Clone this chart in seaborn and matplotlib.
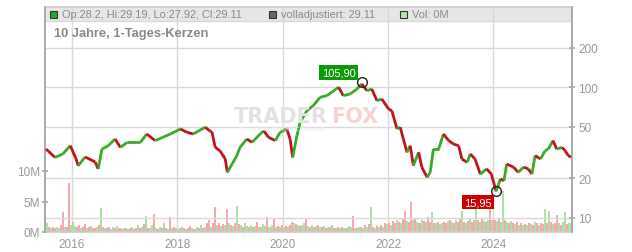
import numpy as np
import matplotlib
matplotlib.use("Agg")
import matplotlib.pyplot as plt
import seaborn as sns
from matplotlib.collections import LineCollection
from matplotlib.patches import Rectangle

# ---------------- data ----------------
price_year = [2015.51, 2015.68, 2015.83, 2015.97, 2016.08, 2016.12, 2016.25, 2016.44, 2016.50,
              2016.57, 2016.69, 2016.82, 2016.92, 2017.05, 2017.30, 2017.42, 2017.58, 2017.73,
              2017.87, 2018.06, 2018.18, 2018.30, 2018.53, 2018.62, 2018.66, 2018.72, 2018.81,
              2018.91, 2018.95, 2019.04, 2019.13, 2019.19, 2019.32, 2019.42, 2019.54, 2019.64,
              2019.73, 2019.86, 2019.95, 2020.08, 2020.14, 2020.19, 2020.27, 2020.33, 2020.46,
              2020.58, 2020.71, 2020.84, 2020.93, 2021.06, 2021.15, 2021.28, 2021.41, 2021.50,
              2021.60, 2021.69, 2021.79, 2021.88, 2022.01, 2022.07, 2022.17, 2022.23, 2022.29,
              2022.36, 2022.42, 2022.48, 2022.58, 2022.64, 2022.74, 2022.80, 2022.86, 2022.96,
              2023.05, 2023.15, 2023.24, 2023.34, 2023.40, 2023.50, 2023.56, 2023.65, 2023.75,
              2023.87, 2023.96, 2024.05, 2024.13, 2024.20, 2024.25, 2024.38, 2024.47, 2024.57,
              2024.66, 2024.73, 2024.79, 2024.89, 2024.98, 2025.04, 2025.13, 2025.20, 2025.30,
              2025.36, 2025.42, 2025.47]
price_val = [33.6, 29.0, 30.8, 35.6, 28.2, 25.0, 29.2, 26.8, 23.7,
             33.6, 35.6, 40.1, 34.6, 37.8, 37.8, 43.8, 39.0, 41.4,
             43.8, 47.9, 45.2, 43.8, 49.4, 46.2, 45.2, 34.6, 32.6,
             28.2, 22.3, 25.8, 29.9, 34.6, 40.1, 37.8, 42.5, 46.4,
             41.4, 39.0, 45.2, 47.9, 40.1, 29.0, 42.5, 53.9, 66.1,
             72.2, 83.7, 86.2, 91.4, 100.0, 86.2, 88.7, 96.9, 105.9,
             94.0, 96.9, 78.8, 81.2, 68.1, 66.1, 47.9, 49.4, 40.1,
             31.7, 35.6, 25.1, 31.7, 24.4, 20.4, 22.3, 33.6, 33.6,
             43.8, 39.0, 36.7, 35.6, 28.2, 26.6, 30.8, 28.2, 21.6,
             23.7, 21.6, 15.95, 19.8, 19.2, 25.8, 24.4, 22.3, 24.4,
             23.7, 21.6, 29.9, 28.2, 32.6, 33.6, 39.0, 33.6, 34.6,
             32.6, 29.9, 29.11]

# volume in millions, two-week buckets per year
vol_2015 = [1.5, 0.9, 0.7, 0.9, 0.6, 0.8, 0.7, 1.1, 3.3, 0.9, 0.8, 8.0, 1.2]
vol_2016 = [1.6, 1.0, 0.8, 1.2, 0.7, 0.9, 1.3, 0.6, 0.8, 1.0, 0.7, 0.6, 0.9, 1.1, 3.9, 0.8,
            0.6, 0.7, 0.9, 0.5, 0.8, 0.6, 1.0, 0.7, 0.5, 0.6]
vol_2017 = [0.6, 0.5, 0.7, 0.9, 0.5, 0.6, 1.2, 0.6, 0.8, 1.3, 2.7, 0.7, 0.6, 1.1, 3.0, 0.6,
            0.5, 0.8, 0.6, 1.4, 0.7, 0.5, 2.5, 0.6, 0.8, 0.6]
vol_2018 = [0.5, 0.6, 0.8, 0.6, 0.5, 0.7, 1.0, 0.6, 0.5, 0.8, 0.6, 1.2, 0.7, 0.9, 1.4, 2.0,
            0.9, 1.5, 4.1, 1.2, 1.5, 1.0, 1.3, 1.1, 3.8, 1.4]
vol_2019 = [1.2, 1.0, 1.5, 4.3, 1.3, 1.1, 0.9, 1.4, 1.0, 0.8, 1.2, 0.9, 1.0, 1.6, 0.8, 0.9,
            1.3, 1.0, 2.5, 0.9, 1.1, 2.2, 0.8, 1.0, 0.9, 1.2]
vol_2020 = [0.8, 1.0, 0.9, 1.2, 1.7, 1.5, 1.3, 1.1, 1.0, 1.2, 1.4, 2.1, 1.0, 0.9, 1.1, 0.8,
            1.0, 1.2, 0.9, 0.8, 1.0, 0.7, 0.9, 0.8, 1.1, 0.7]
vol_2021 = [0.6, 0.8, 0.7, 0.9, 0.6, 0.7, 1.0, 0.8, 2.6, 0.7, 0.6, 0.9, 0.8, 0.7, 1.2, 0.8,
            1.3, 4.1, 0.9, 0.7, 1.0, 0.8, 1.2, 0.9, 1.5, 1.3]
vol_2022 = [1.4, 1.2, 1.8, 1.5, 2.0, 1.6, 1.4, 2.2, 3.4, 1.8, 1.6, 5.0, 1.9, 2.2, 1.7, 1.5,
            2.0, 1.8, 1.6, 2.4, 1.7, 3.2, 1.5, 1.4, 1.6, 1.3]
vol_2023 = [1.5, 1.7, 1.4, 1.8, 2.0, 1.6, 1.5, 1.9, 1.7, 2.3, 3.5, 1.6, 1.4, 1.8, 2.1, 1.7,
            2.0, 3.8, 1.9, 1.6, 2.2, 1.8, 1.7, 2.0, 3.8, 1.9]
vol_2024 = [2.0, 1.8, 2.2, 1.7, 6.7, 1.9, 1.6, 1.5, 1.8, 1.4, 1.3, 1.6, 1.2, 1.4, 1.1, 1.3,
            1.2, 1.5, 1.3, 1.1, 1.6, 1.4, 1.2, 1.5, 1.3, 3.7]
vol_2025 = [1.4, 3.5, 1.6, 1.3, 1.5, 2.8, 1.4, 1.2, 1.6, 3.2, 1.3, 1.5, 1.2]

# up (g) / down (r) day for each volume bucket
dir_2015 = "grgrrggrrgrrg"
dir_2016 = "ggrrgrrgrgrrgrgrgrrggrgrrg"
dir_2017 = "rgrgrrgrgrgrggrgrgrgrgrgrg"
dir_2018 = "grgrgrrgrgrgrgrrgrrgrgrgrg"
dir_2019 = "rgrgrgrggrgrgrgrggrggrgrgr"
dir_2020 = "grgrrgrgrggrgrgrgrgrgrgrgr"
dir_2021 = "grgrgrggrgrgrgrgrgrgrgrgrg"
dir_2022 = "rgrrgrgrrgrrgrgrgrgrrgrgrg"
dir_2023 = "grrgrgrgrrgrgrgrrgrgrgrgrg"
dir_2024 = "rgrggrgrgrgrgrgrgrgrgrgrrg"
dir_2025 = "rgrgrrgrggrgr"

year_tick_labels = ["2016", "2018", "2020", "2022", "2024"]
price_ticks = [10, 20, 50, 100, 200]
price_tick_labels = ["10", "20", "50", "100", "200"]
vol_ticks = [0, 5, 10]
vol_tick_labels = ["0M", "5M", "10M"]

high_year, high_val, high_label = 2021.50, 105.9, "105,90"
low_year, low_val, low_label = 2024.05, 15.95, "15,95"

header_ohlc = "Op:28.2, Hi:29.19, Lo:27.92, Cl:29.11"
header_adj = "volladjustiert: 29.11"
header_vol = "Vol: 0M"
title = "10 Jahre, 1-Tages-Kerzen"

# ---------------- build volume positions ----------------
vol_blocks = [(2015.5, vol_2015, dir_2015), (2016, vol_2016, dir_2016), (2017, vol_2017, dir_2017),
              (2018, vol_2018, dir_2018), (2019, vol_2019, dir_2019), (2020, vol_2020, dir_2020),
              (2021, vol_2021, dir_2021), (2022, vol_2022, dir_2022), (2023, vol_2023, dir_2023),
              (2024, vol_2024, dir_2024), (2025, vol_2025, dir_2025)]
vx, vy, vc = [], [], []
for start, vals, dirs in vol_blocks:
    for k, (v, d) in enumerate(zip(vals, dirs)):
        vx.append(start + (k + 0.5) / 26.0)
        vy.append(v)
        vc.append("#aedfa6" if d == "g" else "#f3a9b0")

# ---------------- figure ----------------
sns.set_theme(style="white")
plt.rcParams['font.family'] = ['Liberation Sans', 'DejaVu Sans']
W, H = 632, 253
fig = plt.figure(figsize=(W / 100, H / 100), dpi=100)
L, R, T, B = 45, 572, 8, 233
ax = fig.add_axes([L / W, 1 - B / H, (R - L) / W, (B - T) / H])
ax.set_facecolor("white")
ax2 = ax.twinx()

grid_c = "#d9d9d9"
txt_c = "#999999"

# volume axis: 6.1 px per million
ax.set_ylim(0, (B - T) / 6.1)
ax.set_xlim(2015.49, 2025.49)
ax.bar(vx, vy, width=1 / 26, color=vc, linewidth=0, zorder=2)

# header band
hb = (B - 22) / (B - T)
ax.add_patch(Rectangle((0, hb), 1, 1 - hb, transform=ax.transAxes, color="#e6e6e6", zorder=0.1, lw=0))
ax.plot([0, 1], [hb, hb], transform=ax.transAxes, color=grid_c, lw=1, zorder=0.3)

# x grid
years = [int(s) for s in year_tick_labels]
ax.set_xticks(years)
ax.set_xticklabels(year_tick_labels, color=txt_c, fontsize=8.5)
for yv in years:
    ax.axvline(yv, color=grid_c, lw=1, zorder=0.4)

ax.set_yticks(vol_ticks)
ax.set_yticklabels(vol_tick_labels, color=txt_c, fontsize=8.5)
ax.tick_params(axis="y", direction="inout", length=5, color="#aaaaaa", pad=1)
ax.tick_params(axis="x", direction="out", length=2, color="#aaaaaa", pad=2)

# price axis (log)
ax2.set_yscale("log")
dp = 39.3
ax2.set_ylim(100 / 2 ** ((B - 88.2) / dp), 100 * 2 ** ((88.2 - T) / dp))
ax2.set_yticks(price_ticks)
ax2.set_yticklabels(price_tick_labels, color=txt_c, fontsize=8.5)
ax2.yaxis.set_minor_locator(matplotlib.ticker.NullLocator())
ax2.tick_params(axis="y", direction="inout", length=5, color="#aaaaaa", pad=2)
for pv in price_ticks:
    ax2.axhline(pv, color=grid_c, lw=1, zorder=0.5)

# watermark
wm_font = ['DejaVu Sans']
fig.text(234 / W, 1 - 117 / H, "TRADER", color="#e2e2e2", fontsize=15, fontweight="bold",
         va="center", ha="left", family=wm_font, zorder=0)
fig.text(331 / W, 1 - 117 / H, "FOX", color="#f8d2d2", fontsize=15, fontweight="bold",
         va="center", ha="left", family=wm_font, zorder=0)
fig.text(240 / W, 1 - 129.5 / H, "REALTIME  STOCK  SCREENING", color="#ececec", fontsize=4,
         va="center", ha="left", zorder=0)

# price line (candle-like coloured segments)
sns.lineplot(x=price_year, y=price_val, ax=ax2, color="#9a9a9a", lw=0.6, zorder=3)
pts = np.column_stack([price_year, price_val])
segs = np.stack([pts[:-1], pts[1:]], axis=1)
cols = ["#3aa82a" if b >= a else "#c0141c" for a, b in zip(price_val[:-1], price_val[1:])]
lc = LineCollection(segs, colors=cols, linewidths=2.0, zorder=4)
ax2.add_collection(lc)

# annotations
ax2.plot([high_year], [high_val * 1.03], marker="o", ms=7, mfc="none", mec="#222222", mew=1, zorder=6)
ax2.plot([low_year], [low_val], marker="o", ms=7, mfc="none", mec="#222222", mew=1, zorder=6)
ax2.text(2021.06, 130.0, high_label, color="white", fontsize=8, ha="center", va="center", zorder=7,
         bbox=dict(boxstyle="square,pad=0.2", fc="#0a9a0a", ec="none"))
ax2.text(2023.71, 13.2, low_label, color="white", fontsize=8, ha="center", va="center", zorder=7,
         bbox=dict(boxstyle="square,pad=0.2", fc="#cc0000", ec="none"))

# spines
for s in ["top", "bottom"]:
    ax.spines[s].set_color("#cccccc")
    ax2.spines[s].set_visible(False)
for s in ["left", "right"]:
    ax.spines[s].set_color("#aaaaaa")
    ax2.spines[s].set_color("#aaaaaa")
ax.set_ylabel("")
ax2.set_ylabel("")
ax.set_xlabel("")

# header legend
def sq(x, y, fc, ec):
    fig.patches.append(Rectangle((x / W, 1 - (y + 7) / H), 7 / W, 7 / H, transform=fig.transFigure,
                                 fc=fc, ec=ec, lw=0.8, figure=fig, zorder=5))

sq(50, 11.5, "#22aa22", "#333333")
fig.text(62 / W, 1 - 15.5 / H, header_ohlc, color="#8a8a8a", fontsize=7.9, va="center", ha="left")
sq(269, 11.5, "#666666", "#333333")
fig.text(281 / W, 1 - 15.5 / H, header_adj, color="#8a8a8a", fontsize=7.9, va="center", ha="left")
sq(400, 11.5, "#b5e3ad", "#333333")
fig.text(412 / W, 1 - 15.5 / H, header_vol, color="#8a8a8a", fontsize=7.9, va="center", ha="left")
fig.text(54 / W, 1 - 34 / H, title, color="#888888", fontsize=9.3, fontweight="bold", va="center", ha="left")

fig.savefig("out.png", dpi=100)
